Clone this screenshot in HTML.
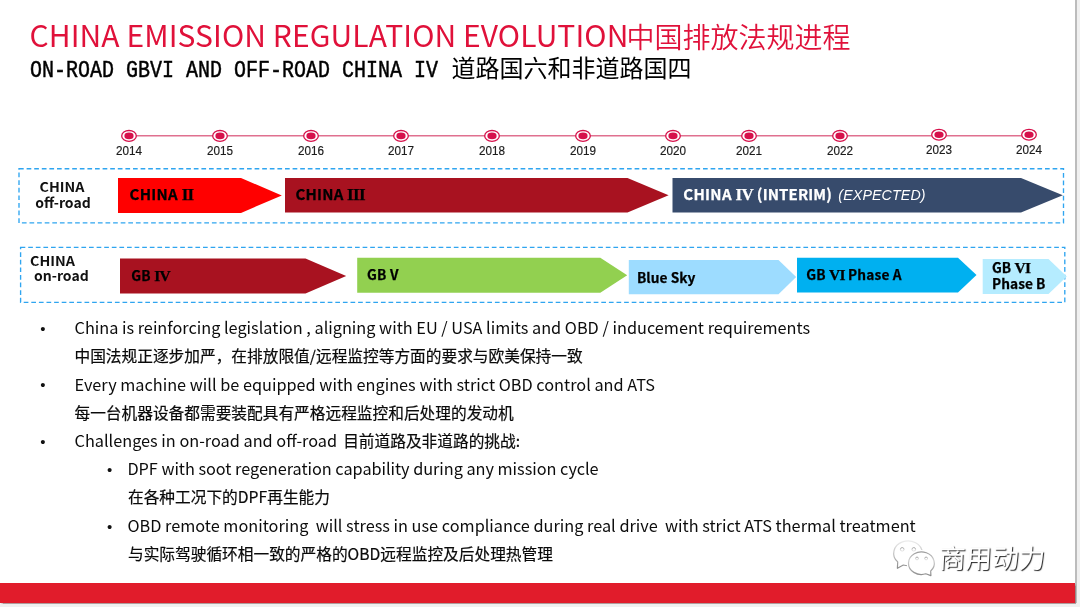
<!DOCTYPE html>
<html lang="zh">
<head>
<meta charset="utf-8">
<title>China Emission Regulation Evolution</title>
<style>
html,body{margin:0;padding:0;}
body{width:1080px;height:607px;overflow:hidden;background:#f0f0f0;position:relative;font-family:"Liberation Sans","Noto Sans CJK SC",sans-serif;color:#111;}
#slide{position:absolute;left:0;top:0;width:1075px;height:603px;background:#fff;border-right:2px solid #bcbcbc;overflow:hidden;}
#bar{position:absolute;left:0;top:582.6px;width:1075.4px;height:20.5px;background:#e11c2b;box-shadow:.5px .5px 1px rgba(120,90,90,.55);}
.abs{position:absolute;white-space:nowrap;line-height:1;}
#title{left:29.5px;top:14px;font-size:30px;line-height:40px;color:#e0113a;font-family:"Noto Sans CJK SC","Liberation Sans",sans-serif;font-weight:400;letter-spacing:.09px}
#title span{font-size:28px;font-weight:350;letter-spacing:0;margin-left:-2px;position:relative;top:.6px;}
#sub{left:30px;top:57px;font-size:24px;color:#000;}
#sub .m{font-family:"Liberation Mono",monospace;display:inline-block;white-space:pre;transform:scaleX(.8333);transform-origin:0 0;width:504px;margin-right:-82.5px;-webkit-text-stroke:.5px #000;}
svg{position:absolute;left:0;top:0;}
.yr{font-size:13.6px;color:#1c1c1c;transform:translateX(-50%) scaleX(.86);-webkit-text-stroke:.2px #1c1c1c;}
.lab{font-family:"Noto Sans CJK SC","Liberation Sans",sans-serif;font-weight:bold;font-size:14px;color:#111;text-align:center;line-height:15.5px;}
.at{font-family:"Noto Sans CJK SC","Liberation Sans",sans-serif;font-weight:bold;font-size:15px;line-height:22px;color:#000;-webkit-text-stroke:.25px currentColor;}
.r2{font-size:13.7px;}
.cap{font-size:12.8px;display:inline-block;transform:scaleX(1.12);}
.rn{font-family:"Liberation Serif",serif;font-weight:bold;font-size:1.13em;letter-spacing:-.7px;line-height:1px;}
.en{font-size:16.3px;color:#0c0c0c;font-family:"Noto Sans CJK SC","Liberation Sans",sans-serif;}
.cn{font-size:15.7px;color:#0a0a0a;-webkit-text-stroke:.2px #0a0a0a;font-family:"Noto Sans CJK SC","Liberation Sans",sans-serif;}
.dot{font-size:15px;color:#111;}
</style>
</head>
<body>
<div id="slide">
<div id="title" class="abs">CHINA EMISSION REGULATION EVOLUTION<span>中国排放法规进程</span></div>
<div id="sub" class="abs"><span class="m">ON-ROAD GBVI AND OFF-ROAD CHINA IV </span>道路国六和非道路国四</div>

<svg width="1080" height="607" viewBox="0 0 1080 607">
 <!-- timeline -->
 <line x1="129" y1="135.8" x2="1029" y2="135.8" stroke="#e0708f" stroke-width="1.5"/>
 <g fill="#fff" stroke="#d6114b" stroke-width="1.3">
  <ellipse cx="129" cy="135.9" rx="7.3" ry="5.4"/>
  <ellipse cx="220" cy="135.9" rx="7.3" ry="5.4"/>
  <ellipse cx="311" cy="135.9" rx="7.3" ry="5.4"/>
  <ellipse cx="401" cy="135.9" rx="7.3" ry="5.4"/>
  <ellipse cx="492" cy="135.9" rx="7.3" ry="5.4"/>
  <ellipse cx="583" cy="135.9" rx="7.3" ry="5.4"/>
  <ellipse cx="673" cy="135.9" rx="7.3" ry="5.4"/>
  <ellipse cx="749" cy="135.9" rx="7.3" ry="5.4"/>
  <ellipse cx="840" cy="135.9" rx="7.3" ry="5.4"/>
  <ellipse cx="939" cy="134.7" rx="7.3" ry="5.4"/>
  <ellipse cx="1029" cy="134.7" rx="7.3" ry="5.4"/>
 </g>
 <g fill="#d6114b">
  <ellipse cx="129" cy="135.9" rx="4.6" ry="3.3"/>
  <ellipse cx="220" cy="135.9" rx="4.6" ry="3.3"/>
  <ellipse cx="311" cy="135.9" rx="4.6" ry="3.3"/>
  <ellipse cx="401" cy="135.9" rx="4.6" ry="3.3"/>
  <ellipse cx="492" cy="135.9" rx="4.6" ry="3.3"/>
  <ellipse cx="583" cy="135.9" rx="4.6" ry="3.3"/>
  <ellipse cx="673" cy="135.9" rx="4.6" ry="3.3"/>
  <ellipse cx="749" cy="135.9" rx="4.6" ry="3.3"/>
  <ellipse cx="840" cy="135.9" rx="4.6" ry="3.3"/>
  <ellipse cx="939" cy="134.7" rx="4.6" ry="3.3"/>
  <ellipse cx="1029" cy="134.7" rx="4.6" ry="3.3"/>
 </g>
 <!-- dashed boxes -->
 <rect x="19" y="168.7" width="1044.5" height="54.2" fill="none" stroke="#2fa5f0" stroke-width="1.35" stroke-dasharray="4.7 2.9"/>
 <rect x="20.6" y="247.3" width="1044.2" height="55" fill="none" stroke="#2fa5f0" stroke-width="1.35" stroke-dasharray="4.7 2.9"/>
 <!-- row 1 arrows -->
 <polygon points="118,178 241,178 281.8,195.4 241,212.9 118,212.9" fill="#ff0000"/>
 <polygon points="285,178 627.5,178 668.6,195.3 627.5,212.6 285,212.6" fill="#a81220"/>
 <polygon points="672.5,178 1021,178 1062.8,195.3 1021,212.6 672.5,212.6" fill="#374b6c"/>
 <!-- row 2 arrows -->
 <polygon points="120,258.5 305.5,258.5 346.2,276 305.5,293.5 120,293.5" fill="#a81220"/>
 <polygon points="357.2,257.8 600.3,257.8 627.2,275.3 600.3,292.8 357.2,292.8" fill="#92d050"/>
 <polygon points="628.8,260 778.5,260 796.2,277 778.5,294.2 628.8,294.2" fill="#9ddcff"/>
 <polygon points="797,257.8 958,257.8 976.5,275 958,292.5 797,292.5" fill="#00b0f0"/>
 <polygon points="982.7,259 1048.5,259 1066.8,276.5 1048.5,294 982.7,294" fill="#b5ecff"/>
</svg>

<!-- years -->
<div class="abs yr" style="left:128.7px;top:144.1px">2014</div>
<div class="abs yr" style="left:219.7px;top:144.1px">2015</div>
<div class="abs yr" style="left:310.7px;top:144.1px">2016</div>
<div class="abs yr" style="left:400.7px;top:144.1px">2017</div>
<div class="abs yr" style="left:491.7px;top:144.1px">2018</div>
<div class="abs yr" style="left:582.7px;top:144.1px">2019</div>
<div class="abs yr" style="left:672.7px;top:144.1px">2020</div>
<div class="abs yr" style="left:748.7px;top:144.1px">2021</div>
<div class="abs yr" style="left:839.7px;top:144.1px">2022</div>
<div class="abs yr" style="left:938.7px;top:143.1px">2023</div>
<div class="abs yr" style="left:1028.7px;top:143.1px">2024</div>

<!-- row labels -->
<div class="abs lab" style="left:33px;top:179px;width:60px"><span class="cap" style="margin-left:-1px">CHINA</span><br>off-road</div>
<div class="abs lab" style="left:29.5px;top:252.5px;width:60px;text-align:left"><span class="cap" style="transform-origin:0 0">CHINA</span><br><span style="padding-left:4.5px">on-road</span></div>

<!-- arrow texts -->
<div class="abs at" style="left:129.5px;top:183.3px;letter-spacing:.3px">CHINA <span class="rn">II</span></div>
<div class="abs at" style="left:295.5px;top:183.3px;letter-spacing:.2px">CHINA <span class="rn">III</span></div>
<div class="abs at" style="left:683.3px;top:183.3px;color:#fff;letter-spacing:.3px;word-spacing:.1px">CHINA <span class="rn">IV</span> <span style="letter-spacing:.12px">(INTERIM)</span></div>
<div class="abs" style="left:838.3px;top:187.8px;font-size:14.2px;color:#fff;font-style:italic;letter-spacing:.15px">(EXPECTED)</div>
<div class="abs at r2" style="left:131.3px;top:263.6px;letter-spacing:.2px">GB <span class="rn">IV</span></div>
<div class="abs at r2" style="left:366.9px;top:262.8px;letter-spacing:.3px">GB V</div>
<div class="abs at r2" style="left:637px;top:266px;letter-spacing:.05px">Blue Sky</div>
<div class="abs at r2" style="left:806.3px;top:262.8px;letter-spacing:.15px">GB <span class="rn">VI</span> Phase A</div>
<div class="abs at r2" style="left:992px;top:258.8px;line-height:16.6px;letter-spacing:.05px">GB <span class="rn">VI</span><br>Phase B</div>

<!-- bullets -->
<div class="abs dot" style="left:40.3px;top:321px">•</div>
<div class="abs en" style="left:74.5px;top:319.3px">China is reinforcing legislation , aligning with EU / USA limits and OBD / inducement requirements</div>
<div class="abs cn" style="left:74.5px;top:348.2px">中国法规正逐步加严，在排放限值/远程监控等方面的要求与欧美保持一致</div>
<div class="abs dot" style="left:40.3px;top:377px">•</div>
<div class="abs en" style="left:74.5px;top:375.6px">Every machine will be equipped with engines with strict OBD control and ATS</div>
<div class="abs cn" style="left:74.5px;top:404.7px">每一台机器设备都需要装配具有严格远程监控和后处理的发动机</div>
<div class="abs dot" style="left:40.3px;top:434px">•</div>
<div class="abs en" style="left:74.5px;top:432px">Challenges in on-road and off-road <span class="cn" style="margin-left:2.4px">目前道路及非道路的挑战:</span></div>
<div class="abs dot" style="left:107px;top:462px;">•</div>
<div class="abs en" style="left:127.4px;top:460px;letter-spacing:-.035px">DPF with soot regeneration capability during any mission cycle</div>
<div class="abs cn" style="left:128px;top:489.1px">在各种工况下的DPF再生能力</div>
<div class="abs dot" style="left:107px;top:519px;">•</div>
<div class="abs en" style="left:127.4px;top:517px">OBD remote monitoring&nbsp; will stress in use compliance during real drive&nbsp; with strict ATS thermal treatment</div>
<div class="abs cn" style="left:128px;top:545.8px">与实际驾驶循环相一致的严格的OBD远程监控及后处理热管理</div>

<!-- watermark -->
<svg width="1080" height="607" viewBox="0 0 1080 607">
 <defs>
  <linearGradient id="g1" x1="0" y1="0" x2="0" y2="1"><stop offset="0" stop-color="#ececec"/><stop offset=".55" stop-color="#bdbdbd"/><stop offset="1" stop-color="#8c8c8c"/></linearGradient>
  <linearGradient id="g2" x1="0" y1="0" x2="0" y2="1"><stop offset="0" stop-color="#9a9a9a"/><stop offset=".35" stop-color="#cfcfcf"/><stop offset="1" stop-color="#8c8c8c"/></linearGradient>
  <linearGradient id="g3" x1="0" y1="0" x2="0" y2="1"><stop offset="0" stop-color="#9a9a9a"/><stop offset="1" stop-color="#e6e6e6"/></linearGradient>
 </defs>
 <path d="M903.3,565.0 L897.4,568.3 L897.7,561.9 A14.3,12.4 0 1 1 903.3,565.0 Z" fill="#fff" stroke="url(#g1)" stroke-width="1.2" stroke-linejoin="round"/>
 <circle cx="902.2" cy="549.4" r="1.8" fill="#fff" stroke="url(#g3)" stroke-width=".9"/>
 <circle cx="913.8" cy="549.4" r="1.8" fill="#fff" stroke="url(#g3)" stroke-width=".9"/>
 <path d="M930.7,571.0 L930.9,575.6 L925.8,573.8 A12.9,11.3 0 1 1 930.7,571.0 Z" fill="#fff" stroke="#fff" stroke-width="3.6"/>
 <path d="M930.7,571.0 L930.9,575.6 L925.8,573.8 A12.9,11.3 0 1 1 930.7,571.0 Z" fill="#fff" stroke="url(#g2)" stroke-width="1.2" stroke-linejoin="round"/>
 <circle cx="917" cy="558.5" r="1.4" fill="#fff" stroke="url(#g3)" stroke-width=".9"/>
 <circle cx="926.1" cy="558.5" r="1.4" fill="#fff" stroke="url(#g3)" stroke-width=".9"/>
</svg>
<div class="abs" id="wm" style="left:939.2px;top:544.2px;font-size:26.6px;font-family:'Noto Sans CJK SC',sans-serif;font-weight:400;color:#fff;text-shadow:1.1px 1.1px 1px rgba(0,0,0,.85);transform:skewX(-3deg);">商用动力</div>

</div>
<div id="bar"></div>
</body>
</html>
